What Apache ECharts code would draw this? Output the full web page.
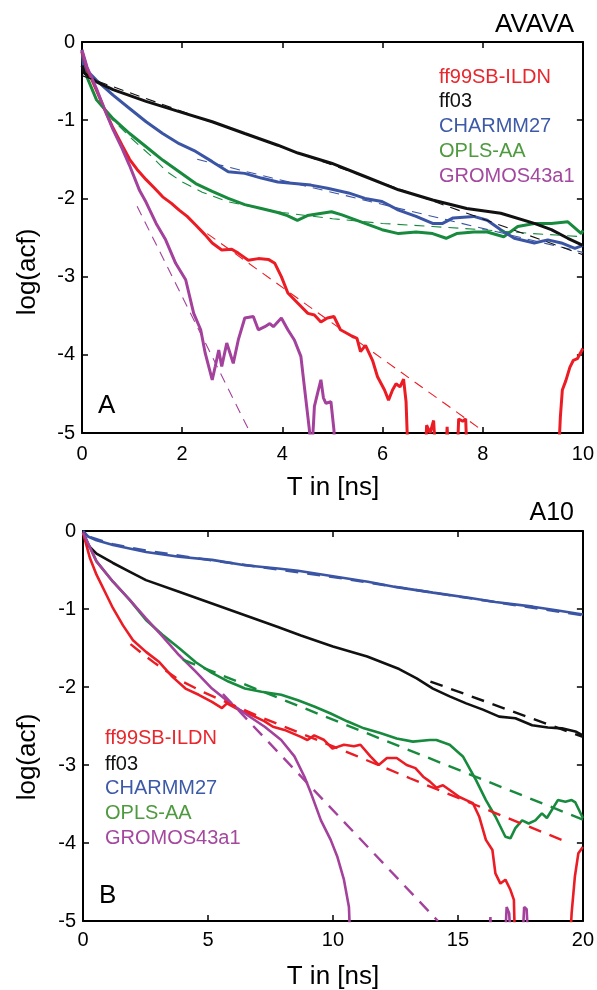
<!DOCTYPE html>
<html>
<head>
<meta charset="utf-8">
<script src="https://cdn.jsdelivr.net/npm/echarts@6/dist/echarts.min.js"></script>
<style>
html,body{margin:0;padding:0;background:#fff;}
#chart{width:597px;height:990px;}
</style>
</head>
<body>
<div id="chart"></div>
<script>
// ---------- labels ----------
const seriesNames = ['ff99SB-ILDN', 'ff03', 'CHARMM27', 'OPLS-AA', 'GROMOS43a1'];
const titleA = 'AVAVA';
const titleB = 'A10';
const xTitle = 'T in [ns]';
const yTitle = 'log(acf)';
const yTicks = [0, -1, -2, -3, -4, -5];
const xTicksA = [0, 2, 4, 6, 8, 10];
const xTicksB = [0, 5, 10, 15, 20];

// ---------- Panel A (AVAVA): [T ns, log(acf)] ----------
const A_ff99 = [[0,-0.12],[0.1,-0.34],[0.29,-0.62],[0.45,-0.86],[0.62,-1.1],[0.8,-1.32],[0.95,-1.5],[1.1,-1.63],[1.28,-1.76],[1.45,-1.87],[1.61,-1.98],[1.78,-2.06],[1.94,-2.15],[2.1,-2.23],[2.27,-2.34],[2.45,-2.46],[2.6,-2.57],[2.79,-2.66],[2.99,-2.65],[3.12,-2.70],[3.32,-2.79],[3.52,-2.77],[3.72,-2.78],[3.85,-2.83],[3.98,-3.0],[4.11,-3.21],[4.31,-3.34],[4.51,-3.47],[4.64,-3.49],[4.77,-3.58],[4.9,-3.53],[5.03,-3.51],[5.16,-3.68],[5.36,-3.75],[5.49,-3.79],[5.56,-3.96],[5.66,-3.88],[5.8,-4.07],[5.9,-4.28],[6.04,-4.45],[6.12,-4.58],[6.2,-4.45],[6.27,-4.37],[6.35,-4.41],[6.42,-4.31],[6.47,-4.6],[6.52,-5.5],[6.85,-5.5],[6.88,-4.9],[6.95,-5.0],[7.02,-4.84],[7.08,-5.5],[7.25,-5.5],[7.29,-4.92],[7.33,-5.5],[7.48,-5.5],[7.52,-4.82],[7.6,-4.85],[7.66,-4.82],[7.7,-5.5],[9.5,-5.5],[9.55,-4.8],[9.59,-4.45],[9.66,-4.33],[9.74,-4.16],[9.81,-4.07],[9.89,-4.05],[10,-3.92]];
const A_ff03 = [[0,-0.3],[0.05,-0.4],[0.29,-0.51],[0.62,-0.61],[1.28,-0.76],[1.94,-0.89],[2.6,-1.02],[3.25,-1.17],[3.91,-1.32],[4.31,-1.42],[4.98,-1.55],[5.65,-1.72],[6.32,-1.89],[7.0,-2.02],[7.68,-2.13],[8.36,-2.19],[9.03,-2.32],[9.37,-2.40],[9.7,-2.51],[10,-2.60]];
const A_charmm = [[0,-0.1],[0.03,-0.32],[0.29,-0.49],[0.62,-0.68],[0.95,-0.85],[1.28,-1.02],[1.61,-1.17],[1.94,-1.30],[2.27,-1.40],[2.6,-1.53],[2.92,-1.66],[3.25,-1.68],[3.58,-1.74],[3.91,-1.79],[4.24,-1.81],[4.57,-1.83],[4.9,-1.87],[5.32,-1.93],[5.65,-2.0],[5.99,-2.04],[6.32,-2.15],[6.67,-2.23],[7.0,-2.32],[7.2,-2.32],[7.41,-2.25],[7.82,-2.23],[8.09,-2.28],[8.36,-2.40],[8.63,-2.51],[9.03,-2.57],[9.3,-2.53],[9.57,-2.57],[9.84,-2.64],[10,-2.60]];
const A_opls = [[0,-0.12],[0.1,-0.45],[0.29,-0.74],[0.62,-0.98],[0.95,-1.17],[1.28,-1.34],[1.61,-1.51],[1.94,-1.66],[2.27,-1.81],[2.6,-1.91],[2.92,-2.0],[3.25,-2.08],[3.58,-2.13],[3.91,-2.18],[4.1,-2.22],[4.3,-2.28],[4.5,-2.22],[4.98,-2.17],[5.19,-2.21],[5.65,-2.32],[5.99,-2.40],[6.32,-2.45],[6.67,-2.43],[7.0,-2.45],[7.27,-2.51],[7.48,-2.45],[7.82,-2.43],[8.09,-2.43],[8.42,-2.49],[8.7,-2.36],[9.03,-2.32],[9.37,-2.32],[9.7,-2.30],[9.97,-2.45],[10,-2.41]];
const A_gromos = [[0,-0.1],[0.1,-0.32],[0.29,-0.6],[0.45,-0.86],[0.62,-1.12],[0.8,-1.36],[0.95,-1.58],[1.15,-1.9],[1.28,-2.05],[1.48,-2.32],[1.67,-2.53],[1.87,-2.83],[2.07,-3.04],[2.23,-3.47],[2.37,-3.68],[2.46,-3.98],[2.6,-4.32],[2.66,-4.15],[2.73,-3.94],[2.79,-4.15],[2.89,-3.85],[3.02,-4.11],[3.12,-3.81],[3.25,-3.53],[3.42,-3.51],[3.52,-3.68],[3.65,-3.64],[3.75,-3.60],[3.82,-3.64],[3.98,-3.53],[4.11,-3.68],[4.24,-3.81],[4.37,-4.02],[4.44,-4.41],[4.54,-4.96],[4.58,-5.3],[4.62,-4.9],[4.64,-4.66],[4.7,-4.5],[4.77,-4.32],[4.82,-4.55],[4.87,-4.62],[4.97,-4.60],[5.03,-4.96],[5.06,-5.5]];
// fits (dashed)
const A_ff99_fit = [[2.5,-2.45],[8.0,-4.97]];
const A_ff03_fit = [[0,-0.43],[10,-2.72]];
const A_charmm_fit = [[2.3,-1.5],[3.8,-1.74],[6.8,-2.2],[10,-2.69]];
const A_opls_fit = [[0.3,-0.74],[0.6,-0.99],[1.0,-1.24],[1.4,-1.47],[1.7,-1.66],[2.0,-1.79],[2.4,-1.92],[2.9,-2.04],[3.5,-2.12],[4.0,-2.18],[5.0,-2.26],[6.0,-2.32],[7.0,-2.36],[8.0,-2.4],[9.0,-2.45],[10,-2.49]];
const A_gromos_fit = [[1.1,-2.1],[3.36,-5.0]];

// ---------- Panel B (A10) ----------
const B_ff99 = [[0,-0.02],[0.28,-0.35],[0.54,-0.56],[0.94,-0.82],[1.2,-0.99],[1.6,-1.21],[2.0,-1.40],[2.52,-1.55],[3.05,-1.68],[3.58,-1.87],[4.1,-2.02],[4.63,-2.10],[5.16,-2.19],[5.56,-2.27],[5.76,-2.21],[6.22,-2.29],[6.75,-2.36],[7.27,-2.44],[7.6,-2.51],[8.06,-2.55],[8.72,-2.64],[8.98,-2.68],[9.25,-2.62],[9.65,-2.68],[9.98,-2.79],[10.44,-2.74],[10.84,-2.76],[11.1,-2.74],[11.5,-2.89],[11.83,-3.0],[12.16,-2.91],[12.55,-2.91],[12.95,-3.0],[13.3,-3.04],[13.61,-3.15],[13.87,-3.21],[14.14,-3.29],[14.4,-3.26],[14.67,-3.32],[15.06,-3.41],[15.33,-3.45],[15.6,-3.49],[15.85,-3.66],[16.12,-3.96],[16.38,-4.09],[16.5,-4.39],[16.7,-4.52],[16.9,-4.47],[17.1,-4.60],[17.24,-4.73],[17.3,-5.5],[19.45,-5.5],[19.55,-4.9],[19.68,-4.43],[19.82,-4.13],[20,-4.05]];
const B_ff03 = [[0,-0.02],[0.2,-0.18],[0.54,-0.29],[1.2,-0.41],[1.86,-0.52],[2.52,-0.63],[3.84,-0.78],[5.16,-0.93],[6.48,-1.08],[7.8,-1.23],[8.72,-1.34],[10,-1.48],[11.37,-1.61],[12.65,-1.77],[13.35,-1.89],[14.0,-2.02],[14.67,-2.12],[15.33,-2.21],[16.0,-2.29],[16.65,-2.38],[17.3,-2.40],[17.97,-2.49],[18.6,-2.52],[19.16,-2.53],[19.7,-2.57],[20,-2.62]];
const B_charmm = [[0,0],[0.2,-0.07],[0.54,-0.12],[1.2,-0.18],[2.52,-0.27],[3.84,-0.33],[5.16,-0.37],[6.48,-0.44],[7.8,-0.48],[8.6,-0.51],[10,-0.58],[11.4,-0.65],[12.55,-0.72],[14,-0.79],[15.5,-0.86],[16.5,-0.91],[18,-0.97],[19,-1.02],[20,-1.07]];
const B_opls = [[0,-0.02],[0.54,-0.39],[1.2,-0.65],[1.86,-0.88],[2.52,-1.14],[3.18,-1.33],[3.84,-1.50],[4.5,-1.68],[5.16,-1.82],[5.82,-1.93],[6.48,-2.02],[7.14,-2.06],[7.93,-2.10],[8.6,-2.17],[9.25,-2.25],[9.91,-2.34],[10.57,-2.44],[11.24,-2.53],[11.89,-2.59],[12.55,-2.66],[13.2,-2.70],[13.87,-2.68],[14.14,-2.68],[14.67,-2.74],[15.2,-2.89],[15.72,-3.19],[16.12,-3.45],[16.5,-3.66],[16.9,-3.92],[17.1,-3.94],[17.3,-3.81],[17.57,-3.71],[17.83,-3.75],[18.1,-3.71],[18.36,-3.62],[18.56,-3.68],[19.0,-3.45],[19.3,-3.47],[19.55,-3.45],[19.7,-3.48],[20,-3.68]];
const B_gromos = [[0,-0.02],[0.54,-0.39],[1.2,-0.65],[1.86,-0.88],[2.52,-1.12],[3.18,-1.35],[3.84,-1.59],[4.5,-1.80],[5.16,-2.02],[5.82,-2.19],[6.48,-2.34],[7.27,-2.51],[7.93,-2.68],[8.46,-2.89],[8.86,-3.15],[9.12,-3.36],[9.52,-3.71],[9.91,-3.96],[10.18,-4.18],[10.44,-4.47],[10.64,-4.82],[10.72,-5.5],[16.25,-5.5],[16.3,-4.95],[16.35,-5.5],[16.85,-5.5],[16.95,-4.82],[17.05,-4.9],[17.17,-5.5],[17.55,-5.5],[17.65,-4.82],[17.75,-4.85],[17.85,-5.5]];
const B_ff99_fit = [[1.9,-1.45],[2.4,-1.58],[2.9,-1.70],[3.8,-1.9],[4.84,-2.07],[7.14,-2.39],[10.84,-2.87],[13.08,-3.17],[16.38,-3.60],[19.3,-3.98]];
const B_ff03_fit = [[13.9,-1.93],[20,-2.64]];
const B_charmm_fit = [[0.3,-0.08],[1.2,-0.17],[2.5,-0.25],[5,-0.37],[10,-0.59],[15,-0.84],[20,-1.08]];
const B_opls_fit = [[4.0,-1.65],[20,-3.70]];
const B_gromos_fit = [[5.6,-2.09],[14.2,-5.0]];

// ---------- styles ----------
const colors = ['#ec1c24', '#111111', '#3b55a5', '#178a3e', '#a3419c'];
const legendColors = ['#e8262c', '#111111', '#3d5aa8', '#4e9a3e', '#a4489f'];
const FONT = '"Liberation Sans", Arial, Helvetica, sans-serif';

const chart = echarts.init(document.getElementById('chart'), null, {renderer: 'canvas'});

function xAx(gi, max, interval, pos, labels, margin) {
  return {
    type: 'value', gridIndex: gi, min: 0, max: max, interval: interval, position: pos,
    axisLine: {show: true, onZero: false, lineStyle: {color: '#000', width: 2}},
    axisTick: {show: true, inside: true, length: 6, lineStyle: {color: '#000', width: 1.5}},
    axisLabel: {show: labels, margin: margin, color: '#000', fontSize: 20, fontFamily: FONT},
    splitLine: {show: false}
  };
}
function yAx(gi, pos, labels) {
  return {
    type: 'value', gridIndex: gi, min: -5, max: 0, interval: 1, position: pos,
    axisLine: {show: true, onZero: false, lineStyle: {color: '#000', width: 2}},
    axisTick: {show: true, inside: true, length: 6, lineStyle: {color: '#000', width: 1.5}},
    axisLabel: {show: labels, margin: 7, color: '#000', fontSize: 20, fontFamily: FONT},
    splitLine: {show: false}
  };
}

function line(data, xi, yi, color, width, dashed, z) {
  return {
    type: 'line', data: data, xAxisIndex: xi, yAxisIndex: yi,
    showSymbol: false, symbol: 'none', clip: true, z: z,
    lineStyle: {color: color, width: width, type: dashed ? dashed : 'solid'},
    emphasis: {disabled: true}
  };
}

const solidA = [A_ff99, A_ff03, A_charmm, A_opls, A_gromos];
const fitA = [A_ff99_fit, A_ff03_fit, A_charmm_fit, A_opls_fit, A_gromos_fit];
const solidB = [B_ff99, B_ff03, B_charmm, B_opls, B_gromos];
const fitB = [B_ff99_fit, B_ff03_fit, B_charmm_fit, B_opls_fit, B_gromos_fit];

const drawOrder = [3, 2, 1, 0, 4];
const series = [];
drawOrder.forEach(i => series.push(line(solidA[i], 0, 0, colors[i], 3, null, 2)));
drawOrder.forEach(i => series.push(line(fitA[i], 0, 0, colors[i], 1.1, [10, 7], 3)));
drawOrder.forEach(i => series.push(line(solidB[i], 2, 2, colors[i], 2.6, null, 2)));
drawOrder.forEach(i => series.push(line(fitB[i], 2, 2, colors[i], 2.4, [13, 9], 3)));

const graphics = [];
function txt(text, x, y, size, color, align, rot) {
  const g = {
    type: 'text', x: x, y: y, silent: true,
    style: {text: text, x: 0, y: 0, font: size + 'px ' + FONT, fill: color,
            textAlign: align, textVerticalAlign: 'middle'}
  };
  if (rot) g.rotation = rot;
  graphics.push(g);
}
txt(titleA, 574, 25, 26, '#000', 'right');
txt(titleB, 574, 513, 25, '#000', 'right');
txt('A', 98, 406, 26, '#000', 'left');
txt('B', 99, 896, 26, '#000', 'left');
txt(xTitle, 333, 488, 26, '#000', 'center');
txt(xTitle, 333, 977, 26, '#000', 'center');
txt(yTitle, 28, 272, 26, '#000', 'center', Math.PI / 2);
txt(yTitle, 28, 757, 26, '#000', 'center', Math.PI / 2);
const legAy = [77, 101, 126.5, 151.5, 176.5];
const legBy = [738, 764, 788.5, 813.5, 838.5];
seriesNames.forEach((n, i) => {
  txt(n, 439, legAy[i], 20, legendColors[i], 'left');
  txt(n, 105, legBy[i], 20, legendColors[i], 'left');
});

chart.setOption({
  animation: false,
  backgroundColor: '#fff',
  grid: [
    {left: 82, top: 42, width: 506, height: 391, containLabel: false},
    {left: 83, top: 531, width: 505, height: 390, containLabel: false}
  ],
  xAxis: [
    xAx(0, 10, 2, 'bottom', true, 11),
    xAx(0, 10, 2, 'top', false, 8),
    xAx(1, 20, 5, 'bottom', true, 9),
    xAx(1, 20, 5, 'top', false, 8)
  ],
  yAxis: [
    yAx(0, 'left', true),
    yAx(0, 'right', false),
    yAx(1, 'left', true),
    yAx(1, 'right', false)
  ],
  series: series,
  graphic: graphics
});
</script>
</body>
</html>
